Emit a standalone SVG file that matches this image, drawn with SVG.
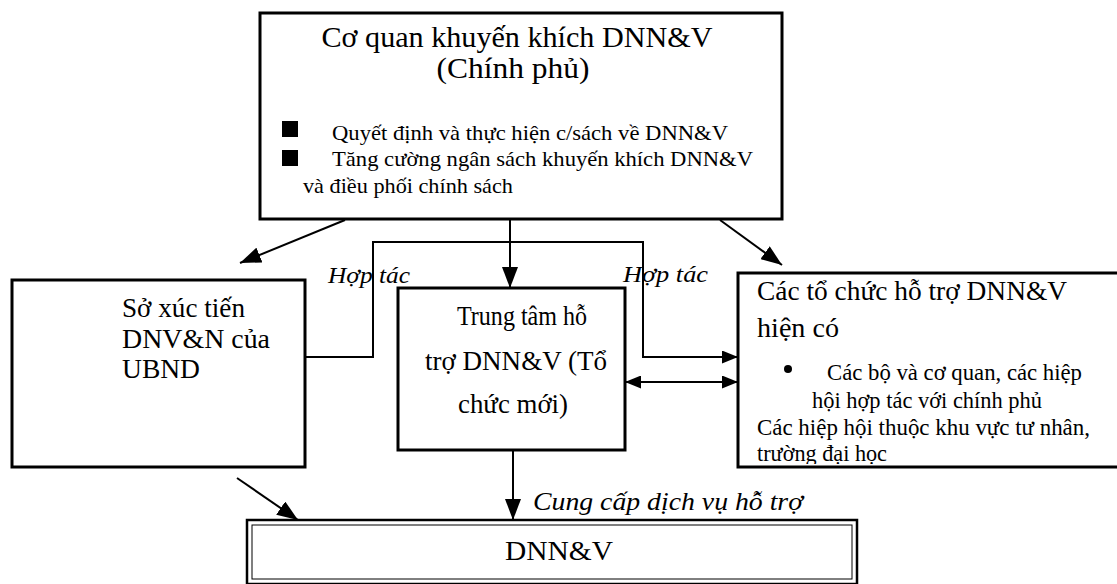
<svg xmlns="http://www.w3.org/2000/svg" width="1117" height="584" viewBox="0 0 1117 584">
<style>
.box{fill:#fff;stroke:#000;stroke-width:3}
.t{font-family:"Liberation Serif","Times New Roman",serif;fill:#000}
.i{font-style:italic}
.ln{fill:none;stroke:#000;stroke-width:2}
</style>
<defs>
<marker id="big" markerUnits="userSpaceOnUse" markerWidth="21" markerHeight="16" refX="21" refY="8" orient="auto-start-reverse">
<path d="M0,0 L21,8 L0,16 z" fill="#000"/>
</marker>
<marker id="sm" markerUnits="userSpaceOnUse" markerWidth="16" markerHeight="13" refX="16" refY="6.5" orient="auto-start-reverse">
<path d="M0,0 L16,6.5 L0,13 z" fill="#000"/>
</marker>
<clipPath id="rclip"><rect x="738" y="273" width="400" height="191"/></clipPath>
</defs>
<rect width="1117" height="584" fill="#fff"/>

<g id="gov">
<rect class="box" x="260" y="13" width="522" height="206"/>
<text class="t" x="517" y="47" font-size="30" text-anchor="middle" textLength="391" lengthAdjust="spacingAndGlyphs">Cơ quan khuyến khích DNN&amp;V</text>
<text class="t" x="513" y="78" font-size="30" text-anchor="middle" textLength="153" lengthAdjust="spacingAndGlyphs">(Chính phủ)</text>
<rect x="282" y="121" width="16" height="16" fill="#000"/>
<rect x="282" y="150" width="16" height="16" fill="#000"/>
<text class="t" x="332" y="140" font-size="22" textLength="396" lengthAdjust="spacingAndGlyphs">Quyết định và thực hiện c/sách về DNN&amp;V</text>
<text class="t" x="332" y="166" font-size="22" textLength="421" lengthAdjust="spacingAndGlyphs">Tăng cường ngân sách khuyến khích DNN&amp;V</text>
<text class="t" x="303" y="193" font-size="22" textLength="210" lengthAdjust="spacingAndGlyphs">và điều phối chính sách</text>
</g>

<g id="so">
<rect class="box" x="12" y="280" width="293" height="187"/>
<text class="t" x="122" y="317" font-size="28" textLength="123" lengthAdjust="spacingAndGlyphs">Sở xúc tiến</text>
<text class="t" x="122" y="348" font-size="28" textLength="148" lengthAdjust="spacingAndGlyphs">DNV&amp;N của</text>
<text class="t" x="122" y="378" font-size="28" textLength="78" lengthAdjust="spacingAndGlyphs">UBND</text>
</g>

<g id="center">
<rect class="box" x="398" y="288" width="227" height="162"/>
<text class="t" x="457" y="325" font-size="27" textLength="130" lengthAdjust="spacingAndGlyphs">Trung tâm hỗ</text>
<text class="t" x="425" y="370" font-size="27" textLength="182" lengthAdjust="spacingAndGlyphs">trợ DNN&amp;V (Tổ</text>
<text class="t" x="458" y="413" font-size="27" textLength="110" lengthAdjust="spacingAndGlyphs">chức mới)</text>
</g>

<g id="orgs">
<rect class="box" x="738" y="273" width="400" height="194" stroke-width="2.5"/>
<text class="t" x="757" y="300" font-size="28" textLength="310" lengthAdjust="spacingAndGlyphs">Các tổ chức hỗ trợ DNN&amp;V</text>
<text class="t" x="757" y="337" font-size="28" textLength="82" lengthAdjust="spacingAndGlyphs">hiện có</text>
<circle cx="788" cy="369" r="4" fill="#000"/>
<text class="t" x="827" y="380" font-size="23" textLength="255" lengthAdjust="spacingAndGlyphs">Các bộ và cơ quan, các hiệp</text>
<text class="t" x="812" y="408" font-size="23" textLength="230" lengthAdjust="spacingAndGlyphs">hội hợp tác với chính phủ</text>
<text class="t" x="757" y="435" font-size="23" textLength="333" lengthAdjust="spacingAndGlyphs">Các hiệp hội thuộc khu vực tư nhân,</text>
<g clip-path="url(#rclip)">
<text class="t" x="757" y="461" font-size="23" textLength="130" lengthAdjust="spacingAndGlyphs">trường đại học</text>
</g>
</g>

<g id="dnnv">
<rect x="247" y="520" width="610" height="64" fill="#fff" stroke="#000" stroke-width="2.5"/>
<rect x="252" y="525" width="600" height="54" fill="none" stroke="#000" stroke-width="1"/>
<text class="t" x="505" y="560" font-size="28" textLength="108" lengthAdjust="spacingAndGlyphs">DNN&amp;V</text>
</g>

<g id="connectors">
<line class="ln" x1="345" y1="220" x2="240" y2="263" marker-end="url(#big)"/>
<line class="ln" x1="510" y1="219" x2="510" y2="288" marker-end="url(#big)"/>
<line class="ln" x1="720" y1="220" x2="782" y2="265" marker-end="url(#big)"/>
<polyline class="ln" points="305,357 373,357 373,242 643,242 643,357 738,357" marker-end="url(#sm)"/>
<line class="ln" x1="625" y1="382" x2="738" y2="382" marker-start="url(#sm)" marker-end="url(#sm)"/>
<line class="ln" x1="237" y1="478" x2="298" y2="520" marker-end="url(#big)"/>
<line class="ln" x1="513" y1="450" x2="513" y2="520" marker-end="url(#big)"/>
<text class="t i" x="328" y="283" font-size="24" textLength="82" lengthAdjust="spacingAndGlyphs">Hợp tác</text>
<text class="t i" x="623" y="282" font-size="24" textLength="85" lengthAdjust="spacingAndGlyphs">Hợp tác</text>
<text class="t i" x="533" y="510" font-size="25" textLength="270" lengthAdjust="spacingAndGlyphs">Cung cấp dịch vụ hỗ trợ</text>
</g>
</svg>
